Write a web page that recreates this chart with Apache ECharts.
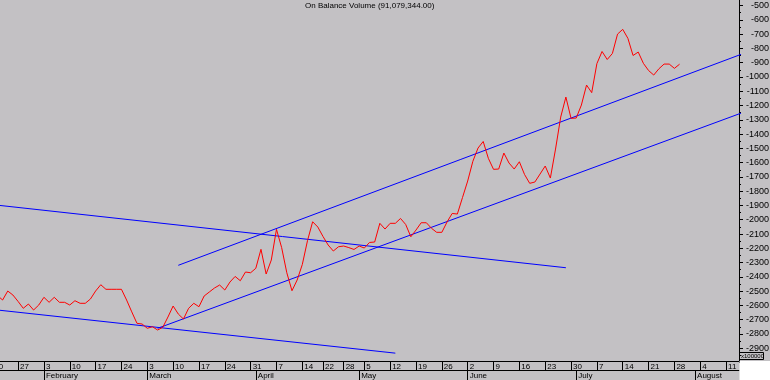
<!DOCTYPE html>
<html>
<head>
<meta charset="utf-8">
<script src="https://cdn.jsdelivr.net/npm/echarts@6/dist/echarts.min.js"></script>
<style>
  html, body { margin: 0; padding: 0; background: #c3c1c4; }
  #chart { width: 770px; height: 380px; }
</style>
</head>
<body>
<div id="chart"></div>
<script>
const chartTitle = 'On Balance Volume (91,079,344.00)'
const unitLabel = 'x100000'

// trading calendar
const firstDay = '2003-01-20'
const lastDay = '2003-08-13'
const holidays = ['2003-04-18', '2003-04-21', '2003-05-01']
const monthNames = ['January', 'February', 'March', 'April', 'May', 'June',
  'July', 'August', 'September', 'October', 'November', 'December']

// OBV in units of 100000, one value per trading day from 20 Jan
const obv = [
  -2513, -2530, -2562, -2499, -2527, -2572, -2620, -2590, -2632, -2597,
  -2543, -2578, -2543, -2578, -2578, -2597, -2567, -2585, -2585, -2555,
  -2499, -2455, -2487, -2487, -2487, -2487, -2562, -2645, -2725, -2730,
  -2760, -2749, -2772, -2753, -2681, -2604, -2660, -2695, -2620, -2585,
  -2609, -2534, -2506, -2478, -2457, -2492, -2436, -2397, -2427, -2366,
  -2371, -2340, -2207, -2380, -2282, -2067, -2195, -2371, -2497, -2422,
  -2313, -2147, -2014, -2051, -2117, -2177, -2219, -2189, -2184, -2195,
  -2208, -2184, -2198, -2159, -2156, -2025, -2065, -2025, -2025, -1991,
  -2033, -2119, -2072, -2021, -2021, -2060, -2088, -2088, -2016, -1956,
  -1960, -1844, -1729, -1591, -1498, -1452, -1570, -1647, -1645, -1533,
  -1603, -1645, -1594, -1683, -1745, -1736, -1680, -1624, -1708, -1505,
  -1281, -1141, -1290, -1288, -1197, -1057, -1110, -907, -822, -878,
  -836, -700, -667, -730, -850, -826, -905, -955, -987, -943,
  -910, -910, -940, -911
]

// trend lines: [trading day index, value] anchors
const downUpper = [[0, -1894], [111, -2336]]
const downLower = [[0, -2628], [78, -2934]]
const upUpper = [[36, -2319], [146, -827]]
const upLower = [[32, -2760], [146, -1239]]

const yMin = -3000
const yMax = -400
const yStep = 100

const font = "'Liberation Sans', Arial, sans-serif"

const days = []
const end = new Date(lastDay + 'T00:00:00Z')
for (let d = new Date(firstDay + 'T00:00:00Z'); d <= end; d.setUTCDate(d.getUTCDate() + 1)) {
  const wd = d.getUTCDay()
  const iso = d.toISOString().slice(0, 10)
  if (wd === 0 || wd === 6 || holidays.includes(iso)) continue
  days.push(iso)
}
const dow = s => new Date(s + 'T00:00:00Z').getUTCDay()
const isWeekStart = i => i === 0 || dow(days[i]) <= dow(days[i - 1])
const isMonthStart = i => i > 0 && days[i].slice(5, 7) !== days[i - 1].slice(5, 7)

const blue = data => ({
  type: 'line', data, symbol: 'none', silent: true, clip: true,
  lineStyle: { color: '#0000ff', width: 1 }
})

const chart = echarts.init(document.getElementById('chart'))
chart.setOption({
  animation: false,
  backgroundColor: '#c3c1c4',
  title: {
    text: chartTitle, left: 305, top: 2, padding: 0,
    textStyle: { fontSize: 8, fontWeight: 'normal', color: '#000', fontFamily: font }
  },
  grid: { left: -10.34, right: 31, top: -8.78, bottom: 17.42, outerBoundsMode: 'none', containLabel: false },
  xAxis: [
    {
      type: 'category', data: days, position: 'bottom', offset: -1.58, boundaryGap: true,
      axisLine: { lineStyle: { color: '#000', width: 1 } },
      axisTick: { show: true, alignWithLabel: true, length: 9, interval: i => isWeekStart(i), lineStyle: { color: '#000', width: 1 } },
      axisLabel: {
        interval: i => isWeekStart(i), align: 'left', margin: 2, padding: [0, 0, 0, 2],
        fontSize: 8, lineHeight: 8, color: '#000', fontFamily: font, hideOverlap: false,
        formatter: v => String(Number(v.slice(8)))
      },
      splitLine: { show: false }
    },
    {
      type: 'category', data: days, position: 'bottom', offset: 7.42, boundaryGap: true,
      axisLine: { lineStyle: { color: '#000', width: 1 } },
      axisTick: { show: true, alignWithLabel: true, length: 10, interval: i => isMonthStart(i), lineStyle: { color: '#000', width: 1 } },
      axisLabel: {
        interval: i => isMonthStart(i), align: 'left', margin: 2, padding: [0, 0, 0, 2],
        fontSize: 8, lineHeight: 8, color: '#000', fontFamily: font, hideOverlap: false,
        formatter: v => monthNames[Number(v.slice(5, 7)) - 1]
      },
      splitLine: { show: false }
    }
  ],
  yAxis: {
    type: 'value', position: 'right', min: yMin, max: yMax, interval: yStep,
    axisLine: { show: true, lineStyle: { color: '#000', width: 1 } },
    axisTick: { show: true, length: 4, lineStyle: { color: '#000' } },
    minorTick: { show: true, splitNumber: 2, length: 2, lineStyle: { color: '#000' } },
    splitLine: { show: false },
    axisLabel: {
      margin: 30, align: 'right', fontSize: 9, color: '#000', fontFamily: font,
      formatter: v => (v < -2900 || v > -500) ? '' : String(v)
    }
  },
  graphic: [
    { type: 'rect', shape: { x: 739.5, y: 361, width: 31, height: 19 }, style: { fill: '#fff' }, z: 100 },
    { type: 'rect', shape: { x: 739.5, y: 352.5, width: 24, height: 7 }, style: { fill: 'transparent', stroke: '#000', lineWidth: 1 }, z: 100 },
    { type: 'text', x: 741, y: 353.5, style: { text: unitLabel, fontSize: 6, fontFamily: font, fill: '#000' }, z: 101 }
  ],
  series: [
    blue(downUpper),
    blue(downLower),
    blue(upUpper),
    blue(upLower),
    {
      type: 'line', data: obv, symbol: 'none', silent: true,
      lineStyle: { color: '#ff0000', width: 1 }
    }
  ]
})
</script>
</body>
</html>
